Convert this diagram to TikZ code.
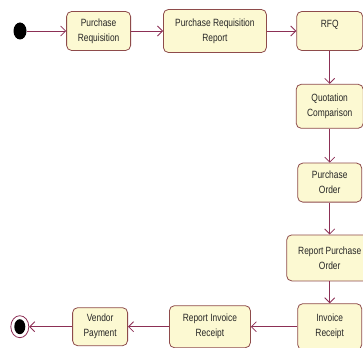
\documentclass[tikz,border=0pt]{standalone}
\usepackage{fontspec}
\newfontfamily\actfont[FakeStretch=0.8]{Liberation Sans}
\usetikzlibrary{arrows.meta,positioning,shapes.geometric}
\definecolor{actfill}{HTML}{FCF9D2}
\definecolor{actline}{HTML}{8E4B4B}
\definecolor{flowline}{HTML}{8C2F55}

\begin{document}
\begin{tikzpicture}[
  x=1pt,y=-1pt,
  node distance=32pt and 32pt,
  act/.style={draw=actline,rounded corners=5pt,fill=actfill,align=center,inner sep=2pt,line width=0.8pt,
    font=\actfont\fontsize{10.5}{15}\selectfont,text=black!85},
  flow/.style={-{Straight Barb[length=5pt,width=10pt]},line width=0.8pt,draw=flowline},
  startdot/.style={ellipse,fill=black,inner sep=0pt,minimum width=13pt,minimum height=17pt},
  enddot/.style={ellipse,draw=flowline,fill=white,line width=0.8pt,inner sep=0pt,minimum width=18pt,minimum height=22pt}
]
\useasboundingbox (0,0) rectangle (363,347);
\node[startdot] (start) at (20,31) {};
\node[act,minimum width=64pt,minimum height=39pt,right=39.5pt of start] (pr) {Purchase\\Requisition};
\node[act,minimum width=103pt,minimum height=43pt,right=32pt of pr] (prr) {Purchase Requisition\\Report};
\node[act,minimum width=66pt,minimum height=39pt,right=29.5pt of prr] (rfq) {RFQ\\\mbox{}};
\node[act,minimum width=67pt,minimum height=44pt,below=33pt of rfq] (qc) {Quotation\\Comparison};
\node[act,minimum width=64pt,minimum height=39pt,below=34pt of qc] (po) {Purchase\\Order};
\node[act,minimum width=86pt,minimum height=46pt,below=32pt of po] (rpo) {Report Purchase\\Order};
\node[act,minimum width=64pt,minimum height=46pt,below=22pt of rpo] (ir) {Invoice\\Receipt};
\node[act,minimum width=81pt,minimum height=42pt,left=46.5pt of ir] (rir) {Report Invoice\\Receipt};
\node[act,minimum width=55pt,minimum height=38pt,left=41pt of rir] (vp) {Vendor\\Payment};
\node[enddot,left=43pt of vp] (fin) {};
\node[startdot,minimum width=11pt,minimum height=15pt] (finin) at (fin) {};
\draw[flow] (start) -- (pr);
\draw[flow] (pr) -- (prr);
\draw[flow] (prr) -- (rfq);
\draw[flow] (rfq) -- (qc);
\draw[flow] (qc) -- (po);
\draw[flow] (po) -- (rpo);
\draw[flow] (rpo) -- (ir);
\draw[flow] (ir) -- (rir);
\draw[flow] (rir) -- (vp);
\draw[flow] (vp) -- (fin);
\end{tikzpicture}
\end{document}
